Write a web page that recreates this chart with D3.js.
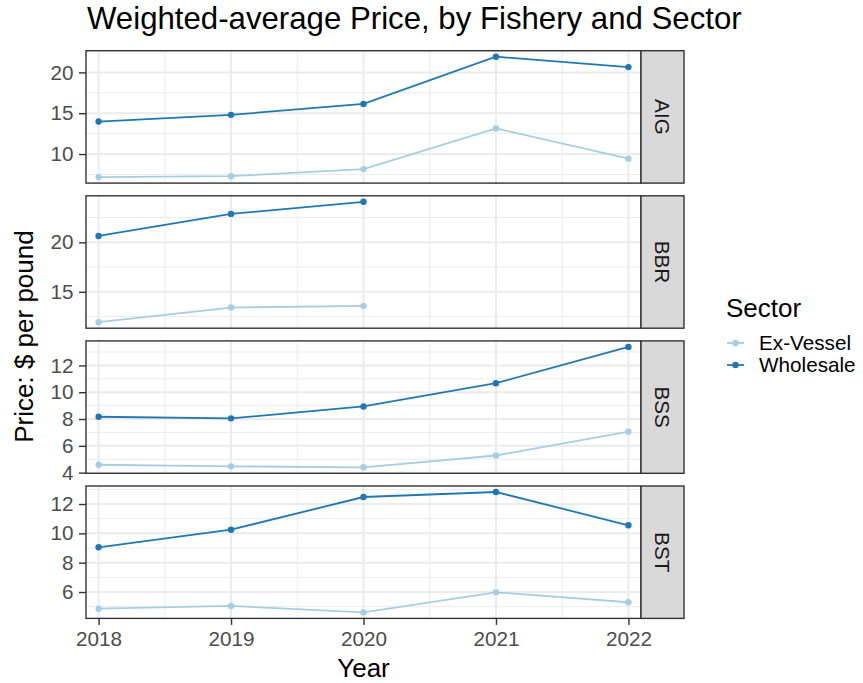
<!DOCTYPE html>
<html>
<head>
<meta charset="utf-8">
<script src="https://cdn.jsdelivr.net/npm/d3@7"></script>
<style>
  html, body { margin: 0; padding: 0; background: #fff; }
  svg { display: block; font-family: "Liberation Sans", Arial, sans-serif; }
</style>
</head>
<body>
<svg id="chart" width="863" height="683"></svg>
<script>
// Weighted-average price ($/lb) by fishery, for two sectors
const years = [2018, 2019, 2020, 2021, 2022];
const fisheries = ["AIG", "BBR", "BSS", "BST"];
const sectors = ["Ex-Vessel", "Wholesale"];
const sectorColors = ["#a6cee3", "#1f78b4"];

const aigExVessel  = [7.18, 7.29, 8.16, 13.14, 9.43];
const aigWholesale = [13.98, 14.8, 16.14, 21.92, 20.65];
const bbrExVessel  = [11.93, 13.41, 13.58, null, null];
const bbrWholesale = [20.64, 22.87, 24.09, null, null];
const bssExVessel  = [4.59, 4.47, 4.40, 5.28, 7.06];
const bssWholesale = [8.17, 8.05, 8.94, 10.67, 13.38];
const bstExVessel  = [4.86, 5.05, 4.61, 5.98, 5.30];
const bstWholesale = [9.05, 10.25, 12.48, 12.82, 10.55];

const yTicks = {
  AIG: [10, 15, 20],
  BBR: [15, 20],
  BSS: [4, 6, 8, 10, 12],
  BST: [6, 8, 10, 12]
};

const seriesByFishery = {
  AIG: [aigExVessel, aigWholesale],
  BBR: [bbrExVessel, bbrWholesale],
  BSS: [bssExVessel, bssWholesale],
  BST: [bstExVessel, bstWholesale]
};

const svg = d3.select("#chart");

// panel geometry
const left = 86, right = 641, stripW = 43;
const panelTop = 50.7, panelH = 132.4, panelGap = 12.7;
const tickFont = 20.7, titleFont = 26;
const gridCol = "#ebebeb", frameCol = "#333333", tickCol = "#4d4d4d";

const xPad = 0.095;
const x = d3.scaleLinear()
  .domain([d3.min(years) - xPad, d3.max(years) + xPad])
  .range([left, right]);

const xMinor = d3.range(2018.5, 2022, 1);

svg.append("text")
  .attr("x", 87).attr("y", 28.5)
  .style("font-size", "31.2px")
  .attr("fill", "#000")
  .text("Weighted-average Price, by Fishery and Sector");

fisheries.forEach((f, i) => {
  const top = panelTop + i * (panelH + panelGap);
  const bottom = top + panelH;
  const series = seriesByFishery[f];
  const vals = series.flat().filter(v => v != null);
  const [lo, hi] = d3.extent(vals);
  const pad = (hi - lo) * 0.05;
  const y = d3.scaleLinear().domain([lo - pad, hi + pad]).range([bottom, top]);

  const g = svg.append("g");

  // minor y grid sits halfway between major breaks
  const ticks = yTicks[f];
  const step = ticks[1] - ticks[0];
  const minorY = d3.range(ticks[0] - step / 2, hi + pad + step, step)
    .filter(v => v >= lo - pad && v <= hi + pad);

  g.selectAll(".yminor").data(minorY).join("line")
    .attr("x1", left).attr("x2", right)
    .attr("y1", d => y(d)).attr("y2", d => y(d))
    .attr("stroke", gridCol).attr("stroke-width", 1);
  g.selectAll(".xminor").data(xMinor).join("line")
    .attr("x1", d => x(d)).attr("x2", d => x(d))
    .attr("y1", top).attr("y2", bottom)
    .attr("stroke", gridCol).attr("stroke-width", 1);
  g.selectAll(".ymajor").data(ticks).join("line")
    .attr("x1", left).attr("x2", right)
    .attr("y1", d => y(d)).attr("y2", d => y(d))
    .attr("stroke", gridCol).attr("stroke-width", 2);
  g.selectAll(".xmajor").data(years).join("line")
    .attr("x1", d => x(d)).attr("x2", d => x(d))
    .attr("y1", top).attr("y2", bottom)
    .attr("stroke", gridCol).attr("stroke-width", 2);

  // series lines and points
  series.forEach((vals, s) => {
    const pts = years.map((yr, k) => ({ yr, v: vals[k] })).filter(d => d.v != null);
    g.append("path")
      .datum(pts)
      .attr("fill", "none")
      .attr("stroke", sectorColors[s])
      .attr("stroke-width", 1.8)
      .attr("d", d3.line().x(d => x(d.yr)).y(d => y(d.v)));
    g.selectAll(null).data(pts).join("circle")
      .attr("cx", d => x(d.yr)).attr("cy", d => y(d.v))
      .attr("r", 3.2).attr("fill", sectorColors[s]);
  });

  // panel border
  g.append("rect")
    .attr("x", left).attr("y", top)
    .attr("width", right - left).attr("height", panelH)
    .attr("fill", "none").attr("stroke", frameCol).attr("stroke-width", 1.4);

  // y axis
  const yAxis = d3.axisLeft(y).tickValues(ticks).tickSize(7).tickPadding(5.5);
  const ya = g.append("g").attr("transform", `translate(${left},0)`).call(yAxis);
  ya.attr("font-family", null).attr("font-size", null);
  ya.select(".domain").remove();
  ya.selectAll(".tick line").attr("stroke", frameCol).attr("stroke-width", 1.4);
  ya.selectAll(".tick text").attr("fill", tickCol).style("font-size", tickFont + "px");

  // strip
  g.append("rect")
    .attr("x", right).attr("y", top)
    .attr("width", stripW).attr("height", panelH)
    .attr("fill", "#d9d9d9").attr("stroke", frameCol).attr("stroke-width", 1.4);
  g.append("text")
    .attr("transform", `translate(${right + stripW / 2},${top + panelH / 2}) rotate(90)`)
    .attr("text-anchor", "middle").attr("dy", "0.35em")
    .style("font-size", tickFont + "px").attr("fill", "#1a1a1a")
    .text(f);

  if (i === fisheries.length - 1) {
    const xAxis = d3.axisBottom(x).tickValues(years).tickFormat(d3.format("d"))
      .tickSize(6.5).tickPadding(6.5);
    const xa = g.append("g").attr("transform", `translate(0,${bottom})`).call(xAxis);
    xa.attr("font-family", null).attr("font-size", null);
    xa.select(".domain").remove();
    xa.selectAll(".tick line").attr("stroke", frameCol).attr("stroke-width", 1.4);
    xa.selectAll(".tick text").attr("fill", tickCol).style("font-size", tickFont + "px");
  }
});

// axis titles
const plotBottom = panelTop + 4 * panelH + 3 * panelGap;
svg.append("text")
  .attr("x", (left + right) / 2).attr("y", 676.5)
  .attr("text-anchor", "middle").style("font-size", titleFont + "px").attr("fill", "#000")
  .text("Year");
svg.append("text")
  .attr("transform", `translate(33,${(panelTop + plotBottom) / 2 + 2}) rotate(-90)`)
  .attr("text-anchor", "middle").style("font-size", titleFont + "px").attr("fill", "#000")
  .text("Price: $ per pound");

// legend
const legend = svg.append("g").attr("transform", "translate(726,0)");
legend.append("text").attr("x", 0).attr("y", 317)
  .style("font-size", titleFont + "px").attr("fill", "#000").text("Sector");
sectors.forEach((s, k) => {
  const cy = 343 + k * 22;
  legend.append("line")
    .attr("x1", 1).attr("x2", 18).attr("y1", cy).attr("y2", cy)
    .attr("stroke", sectorColors[k]).attr("stroke-width", 1.8);
  legend.append("circle").attr("cx", 9.5).attr("cy", cy).attr("r", 3.2)
    .attr("fill", sectorColors[k]);
  legend.append("text").attr("x", 33).attr("y", cy).attr("dy", "0.35em")
    .style("font-size", tickFont + "px").attr("fill", "#000").text(s);
});
</script>
</body>
</html>
